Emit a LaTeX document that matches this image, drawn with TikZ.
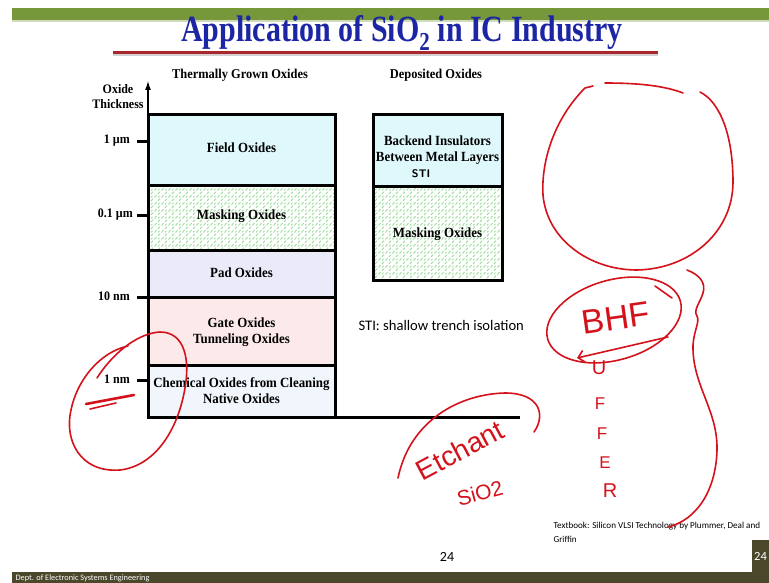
\documentclass[tikz,border=0pt]{standalone}
\usepackage{fontspec}
\setmainfont{Liberation Serif}
\newfontfamily\calibfont{Carlito}
\newfontfamily\handfont{Liberation Sans}
\usepackage{tikz}
\usetikzlibrary{positioning}
\usetikzlibrary{patterns}
\usetikzlibrary{arrows.meta}

\definecolor{barGreen}{RGB}{118,152,58}
\definecolor{titleBlue}{RGB}{28,38,165}
\definecolor{lineRed}{RGB}{170,40,45}
\definecolor{footOlive}{RGB}{74,71,42}
\definecolor{fieldCyan}{RGB}{222,248,251}
\definecolor{padLav}{RGB}{234,234,249}
\definecolor{gatePink}{RGB}{252,233,233}
\definecolor{chemBlue}{RGB}{241,245,252}
\definecolor{weaveGreen}{RGB}{155,220,155}
\definecolor{inkRed}{RGB}{212,18,28}

% little dashes for the masking oxide boxes
\pgfdeclarepatternformonly{weave}{\pgfqpoint{-1pt}{-1pt}}{\pgfqpoint{8pt}{8pt}}{\pgfqpoint{7pt}{7pt}}{
\pgfsetlinewidth{0.9pt}
\pgfpathmoveto{\pgfqpoint{0.5pt}{0.5pt}}\pgfpathlineto{\pgfqpoint{2.5pt}{2.8pt}}
\pgfpathmoveto{\pgfqpoint{4pt}{4pt}}\pgfpathlineto{\pgfqpoint{6pt}{6.3pt}}
\pgfpathmoveto{\pgfqpoint{4.2pt}{0.6pt}}\pgfpathlineto{\pgfqpoint{5.4pt}{2.2pt}}
\pgfusepath{stroke}}

\begin{document}
\begin{tikzpicture}[x=1pt,y=-1pt,
ink/.style={inkRed, line width=1.6pt, line cap=round, line join=round},
lbl/.style={font=\fontsize{14}{16}\selectfont\bfseries, align=center, xscale=0.92},
tick/.style={font=\fontsize{13}{15}\selectfont\bfseries, left, xscale=0.92},
hand/.style={inkRed, inner sep=0pt, font=\handfont\fontsize{20}{22}\selectfont}]

\useasboundingbox (0,0) rectangle (769,583);
\fill[white] (0,0) rectangle (769,583);


\begin{scope}
{
% header bar and title
\fill[barGreen] (12,8) rectangle (769,20);
\fill[barGreen!35] (12,20) rectangle (769,22);
\node[titleBlue, font=\fontsize{37}{40}\selectfont\bfseries, xscale=0.81] (title) at (402,33) {Application of SiO\textsubscript{2} in IC Industry};
\fill[gray!35] (113,54) rectangle (658,56);
\fill[lineRed] (113,51.5) rectangle (658,54);

% column heads
\node[lbl, font=\fontsize{13.5}{15}\selectfont\bfseries] (thermal) at (240,75) {Thermally Grown Oxides};
\node[lbl, font=\fontsize{13.5}{15}\selectfont\bfseries] (deposited) at (436,75) {Deposited Oxides};




% thermally grown stack
\fill[fieldCyan] (148,115) rectangle (335,186);
\fill[pattern=weave, pattern color=weaveGreen] (148,186) rectangle (335,250);
\fill[padLav] (148,250) rectangle (335,297);
\fill[gatePink] (148,297) rectangle (335,365);
\fill[chemBlue] (148,365) rectangle (335,417);

\draw[line width=3pt] (148,115) rectangle (335,417);
\foreach \y in {186,250,297,365}
  \draw[line width=3pt] (148,\y) -- (335,\y);

\node[lbl] (field) at (241.5,148) {Field Oxides};
\node[lbl] (masking) at (241.5,216) {Masking Oxides};
\node[lbl] (pad) at (241.5,273) {Pad Oxides};
\node[lbl] (gate) at (241.5,332) {Gate Oxides\\Tunneling Oxides};
\node[lbl] (chemical) at (241.5,391) {Chemical Oxides from Cleaning\\Native Oxides};


% deposited stack
\fill[fieldCyan] (373,115) rectangle (502,187);
\fill[pattern=weave, pattern color=weaveGreen] (373,187) rectangle (502,280);
\draw[line width=3pt] (373,115) rectangle (502,280);
\draw[line width=3pt] (373,187) -- (502,187);

\node[lbl] (backend) at (437.5,150) {Backend Insulators\\Between Metal Layers};
\node[font=\sffamily\bfseries\fontsize{11}{13}\selectfont] (sti) at (421,174) {STI};
\node[lbl] (depmasking) at (437.5,234) {Masking Oxides};

\node[right, font=\calibfont\fontsize{14.6}{17}\selectfont] (stinote) at (355,325) {STI: shallow trench isolation};


% thickness axis
\draw[line width=2.5pt, -{Latex[length=10pt,width=6pt]}] (148,418.5) -- (148,80);
\draw[line width=3pt] (146.5,417) -- (520,417);
\foreach \y in {142,216,297,380}
  \draw[line width=3pt] (137,\y) -- (148,\y);

\node[lbl, font=\fontsize{13}{15}\selectfont\bfseries] (axislabel) at (118,97) {Oxide\\Thickness};
\node[tick] (um) at (133,141) {1 µm};
\node[tick] (tenthum) at (136,215) {0.1 µm};
\node[tick] (tennm) at (133,296) {10 nm};
\node[tick] (nm) at (133,379) {1 nm};


% footer
\node[right, font=\calibfont\fontsize{9.1}{14}\selectfont, align=left] (book) at (550,532) {Textbook: Silicon VLSI Technology by Plummer, Deal and\\Griffin};
\node[font=\calibfont\fontsize{14}{16}\selectfont] (page) at (447,557) {24};
\fill[footOlive] (752,540) rectangle (769,572);
\node[white, right, inner sep=1pt, font=\calibfont\fontsize{12.5}{14}\selectfont] (pagebox) at (753,556) {24};
\fill[footOlive] (12,572) rectangle (769,583);
\node[white, right, font=\calibfont\fontsize{8.3}{9}\selectfont] (dept) at (12,578) {Dept. of Electronic Systems Engineering};
}
\end{scope}


\begin{scope}
{
% pen notes
\draw[ink] (593,86) -- (585,88) .. controls (555,118) and (541,160) .. (543,195) .. controls (547,240) and (590,270) .. (637,270) .. controls (690,269) and (733,232) .. (733,182) .. controls (733,135) and (720,102) .. (700,92);
\draw[ink] (605,83) .. controls (640,83) and (665,86) .. (683,93);

\draw[ink, rotate around={16:(614,320)}] (614,320) ellipse [x radius=69, y radius=40];
\draw[ink] (655,286) -- (672,298);
\draw[ink, -{Straight Barb[length=6pt]}] (668,337) -- (577,358);
\node[hand, font=\handfont\fontsize{34}{36}\selectfont, rotate=8] (bhf) at (616,318) {BHF};

\node[hand] (u) at (599,368) {U};
\node[hand, font=\handfont\fontsize{17}{20}\selectfont] (f1) at (600,404) {F};
\node[hand, font=\handfont\fontsize{17}{20}\selectfont] (f2) at (602,434) {F};
\node[hand, font=\handfont\fontsize{17}{20}\selectfont] (e) at (605,463) {E};
\node[hand, font=\handfont\fontsize{20}{22}\selectfont] (r) at (610,491) {R};

\draw[ink] (687,270) .. controls (700,275) and (706,283) .. (703,293) .. controls (700,303) and (693,310) .. (697,316) .. controls (700,322) and (694,330) .. (693,345) .. controls (692,385) and (718,410) .. (717,450) .. controls (716,490) and (697,520) .. (668,527);

\draw[ink] (398,478) .. controls (410,420) and (460,394) .. (505,393) .. controls (540,393) and (546,415) .. (534,432);
\node[hand, font=\handfont\fontsize{28}{30}\selectfont, rotate=28] (etchant) at (460,450) {Etchant};
\node[hand, font=\handfont\fontsize{21}{22}\selectfont, rotate=15] (sio) at (480,493) {SiO2};

\draw[ink] (97,378) .. controls (115,350) and (140,333) .. (160,332) .. controls (185,332) and (190,360) .. (185,388) .. controls (178,430) and (155,466) .. (120,470) .. controls (80,473) and (64,440) .. (71,410) .. controls (77,380) and (100,352) .. (128,346);
\draw[ink, line width=2.6pt] (86,404) -- (134,395);
\draw[ink] (90,409) -- (116,403);
}
\end{scope}

\end{tikzpicture}
\end{document}
